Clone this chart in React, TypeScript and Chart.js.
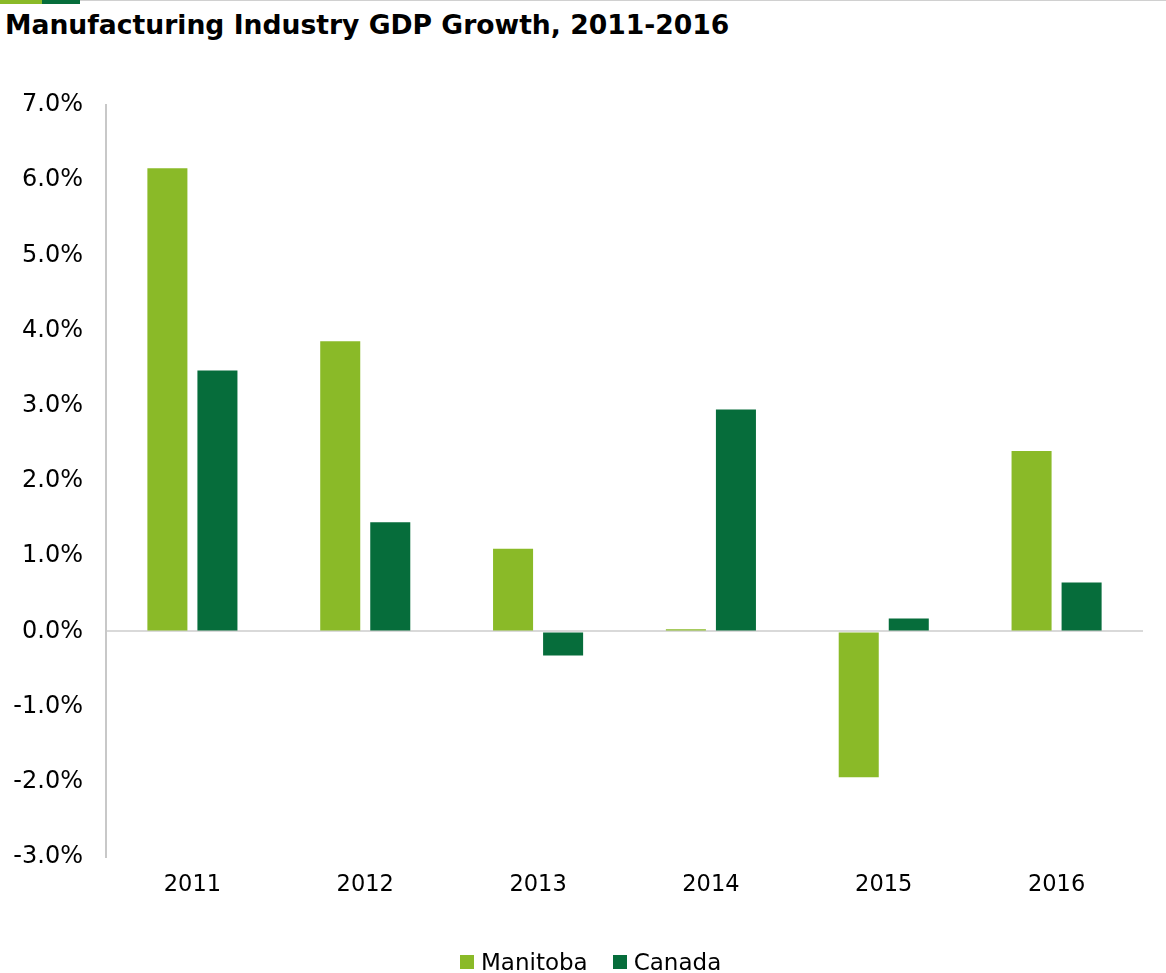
import React, { useEffect, useRef } from "react";
import { Chart, registerables } from "chart.js";

Chart.register(...registerables);

const years = ["2011", "2012", "2013", "2014", "2015", "2016"];
const manitoba = [6.16, 3.86, 1.1, 0.03, -1.94, 2.4];
const canada = [3.47, 1.45, -0.32, 2.95, 0.17, 0.65];
const seriesNames = ["Manitoba", "Canada"];
const yTicksMin = -3;
const yTicksMax = 7;

const FONT = "'DejaVu Sans', Verdana, sans-serif";
const LIGHT = "#8aba28";
const DARK = "#066d3b";
const seriesColors = [LIGHT, DARK];

export default function App() {
  const canvasRef = useRef<HTMLCanvasElement | null>(null);

  useEffect(() => {
    if (!canvasRef.current) return;
    const chart = new Chart(canvasRef.current, {
      type: "bar",
      data: {
        labels: years,
        datasets: [
          {
            label: seriesNames[0],
            data: manitoba,
            backgroundColor: seriesColors[0],
            categoryPercentage: 0.579,
            barPercentage: 0.8,
          },
          {
            label: seriesNames[1],
            data: canada,
            backgroundColor: seriesColors[1],
            categoryPercentage: 0.579,
            barPercentage: 0.8,
          },
        ],
      },
      options: {
        animation: false,
        responsive: true,
        maintainAspectRatio: false,
        layout: { padding: { top: 105, right: 23, left: 0, bottom: 0 } },
        plugins: {
          title: { display: false },
          tooltip: { enabled: false },
          legend: { display: false },
        },
        scales: {
          x: {
            grid: { display: false },
            border: { display: false },
            ticks: {
              color: "#000",
              padding: 7,
              font: { family: FONT, size: 22.5 },
            },
            afterFit: (scale: any) => {
              scale.height = 116;
            },
          },
          y: {
            min: yTicksMin,
            max: yTicksMax,
            ticks: {
              stepSize: 1,
              color: "#000",
              padding: 23,
              font: { family: FONT, size: 24 },
              callback: (v: any) => Number(v).toFixed(1) + "%",
            },
            grid: {
              drawTicks: false,
              color: (ctx: any) => (ctx.tick && ctx.tick.value === 0 ? "#d9d9d9" : "rgba(0,0,0,0)"),
              lineWidth: 2,
            },
            border: { display: true, color: "#c8c8c8", width: 2 },
            afterFit: (scale: any) => {
              scale.width = 106;
            },
          },
        },
      },
    });
    return () => chart.destroy();
  }, []);

  return (
    <div
      style={{
        position: "fixed",
        left: 0,
        top: 0,
        width: 1166,
        height: 973,
        background: "#fff",
        overflow: "hidden",
      }}
    >
      <div style={{ position: "absolute", left: 0, top: 0, width: 1166, height: 1, background: "#d0d0d0" }} />
      <div style={{ position: "absolute", left: 0, top: 0, width: 42, height: 4, background: LIGHT }} />
      <div style={{ position: "absolute", left: 42, top: 0, width: 38, height: 4, background: DARK }} />
      <div
        style={{
          position: "absolute",
          left: 5,
          top: 9,
          fontFamily: FONT,
          fontWeight: "bold",
          fontSize: 26.6,
          color: "#000",
          whiteSpace: "nowrap",
        }}
      >
        Manufacturing Industry GDP Growth, 2011-2016
      </div>
      <div style={{ position: "absolute", left: 0, top: 0, width: 1166, height: 973 }}>
        <canvas ref={canvasRef} />
      </div>
      <div
        style={{
          position: "absolute",
          left: 460,
          top: 948,
          height: 28,
          display: "flex",
          alignItems: "center",
          fontFamily: FONT,
          fontSize: 23,
          color: "#000",
          whiteSpace: "nowrap",
        }}
      >
        {seriesNames.map((name, i) => (
          <div key={name} style={{ display: "flex", alignItems: "center", marginRight: i === 0 ? 25 : 0 }}>
            <div style={{ width: 14, height: 14, background: seriesColors[i], marginRight: 7 }} />
            <span>{name}</span>
          </div>
        ))}
      </div>
    </div>
  );
}
